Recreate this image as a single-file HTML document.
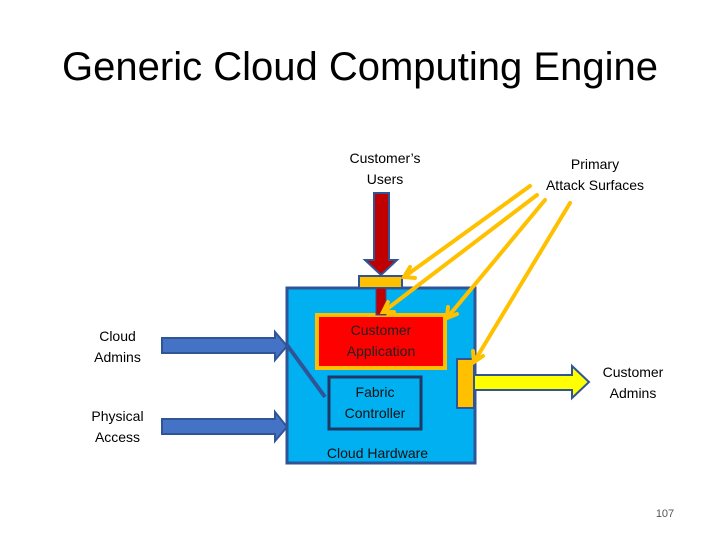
<!DOCTYPE html>
<html><head><style>
body{margin:0;width:720px;height:540px;background:#fff;position:relative;overflow:hidden;font-family:"Liberation Sans",sans-serif}
.t{position:absolute;text-align:center;font-size:14px;line-height:21px;color:#000}
</style></head><body>
<div class="t" style="left:0;width:720px;top:42px;font-size:40px;line-height:50px">Generic Cloud Computing Engine</div>
<svg width="720" height="540" style="position:absolute;left:0;top:0">
<rect x="287" y="288" width="188" height="175" fill="#00b0f0" stroke="#2f5597" stroke-width="3"/>
<rect x="317" y="315" width="128" height="53" fill="#ff0000" stroke="#ffc000" stroke-width="4"/>
<rect x="329" y="377" width="92" height="52" fill="#00b0f0" stroke="#1f3864" stroke-width="3"/>
<rect x="359" y="276" width="43" height="12" fill="#ffc000" stroke="#2f5597" stroke-width="2"/>
<rect x="457" y="359" width="17" height="49" fill="#ffc000" stroke="#2f5597" stroke-width="2"/>
<rect x="376" y="288" width="10" height="27" fill="#c00000" stroke="#2f5597" stroke-width="1"/>
<polygon points="374,193 389,193 389,260 397,260 381,275 365,260 374,260" fill="#c00000" stroke="#2f5597" stroke-width="2"/>
<polygon points="162,338 275,338 275,332 287,346 275,360 275,353 162,353" fill="#4472c4" stroke="#2f5597" stroke-width="2"/>
<polygon points="162,419 275,419 275,412 287,427 275,441 275,434 162,434" fill="#4472c4" stroke="#2f5597" stroke-width="2"/>
<line x1="287" y1="345" x2="325" y2="397" stroke="#2f5597" stroke-width="4"/>
<polygon points="474,375 572,375 572,366 589,382 572,398 572,390 474,390" fill="#ffff00" stroke="#2f5597" stroke-width="2"/>
<g stroke="#ffc000" stroke-width="4" fill="none" stroke-linecap="round">
<line x1="530" y1="186" x2="404" y2="277"/><polyline points="410,267 404,277 415,278"/>
<line x1="537" y1="195" x2="383" y2="312"/><polyline points="388,302 383,312 394,312"/>
<line x1="545" y1="200" x2="447" y2="318"/><polyline points="448,307 447,318 457,314"/>
<line x1="570" y1="203" x2="474" y2="362"/><polyline points="473,351 474,362 483,356"/>
</g>
</svg>
<div class="t" style="left:330px;width:110px;top:148px">Customer’s<br>Users</div>
<div class="t" style="left:530px;width:130px;top:154px">Primary<br>Attack Surfaces</div>
<div class="t" style="left:70px;width:95px;top:326px">Cloud<br>Admins</div>
<div class="t" style="left:70px;width:95px;top:406px">Physical<br>Access</div>
<div class="t" style="left:317px;width:128px;top:320px;color:#222">Customer<br>Application</div>
<div class="t" style="left:329px;width:92px;top:382px;color:#111">Fabric<br>Controller</div>
<div class="t" style="left:310px;width:135px;top:443px;color:#111">Cloud Hardware</div>
<div class="t" style="left:588px;width:90px;top:362px">Customer<br>Admins</div>
<div class="t" style="left:640px;width:50px;top:504px;font-size:11px;color:#555">107</div>
</body></html>
